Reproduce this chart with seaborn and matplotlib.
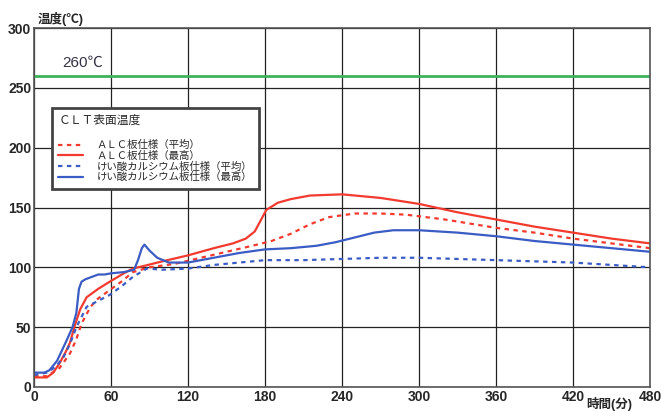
import pandas as pd
import matplotlib
matplotlib.use("Agg")
import matplotlib.pyplot as plt
import seaborn as sns

# ALC (average / max) and calcium silicate board (average / max), CLT surface temperature
alc_avg_t = [0, 10, 20, 28, 33, 37, 44, 50, 59, 68, 77, 90, 110, 130, 150, 170, 185, 200, 215, 230, 250, 270, 290, 320, 360, 390, 420, 450, 480]
alc_avg_v = [9, 9, 16, 28, 40, 53, 67, 74, 81, 88, 96, 100, 103, 108, 113, 118, 122, 128, 136, 142, 145, 145, 144, 140, 133, 129, 124, 120, 116]

alc_max_t = [0, 10, 15, 20, 25, 28, 32, 36, 41, 50, 59, 70, 77, 85, 100, 120, 140, 155, 165, 172, 176, 181, 190, 200, 215, 240, 270, 300, 330, 360, 390, 420, 450, 480]
alc_max_v = [8, 8, 12, 20, 30, 37, 52, 65, 75, 82, 88, 95, 99, 101, 105, 110, 116, 120, 124, 130, 138, 148, 154, 157, 160, 161, 158, 153, 146, 140, 134, 129, 124, 120]

casi_avg_t = [0, 10, 17, 23, 28, 33, 41, 50, 59, 68, 77, 88, 100, 120, 140, 160, 180, 210, 240, 270, 300, 330, 360, 390, 420, 450, 480]
casi_avg_v = [10, 12, 17, 25, 36, 50, 67, 72, 77, 84, 92, 99, 98, 99, 102, 104, 106, 106, 107, 108, 108, 107, 106, 105, 104, 102, 100]

casi_max_t = [0, 8, 12, 18, 25, 30, 33, 35, 37, 40, 45, 50, 55, 60, 70, 78, 81, 84, 86, 90, 96, 105, 120, 140, 160, 180, 200, 220, 235, 250, 265, 280, 300, 330, 360, 390, 420, 450, 480]
casi_max_v = [12, 12, 14, 22, 38, 50, 62, 82, 88, 90, 92, 94, 94, 95, 96, 98, 106, 116, 119, 114, 108, 104, 104, 108, 112, 115, 116, 118, 121, 125, 129, 131, 131, 129, 126, 122, 119, 116, 113]

labels = ["ＡＬＣ板仕様（平均）", "ＡＬＣ板仕様（最高）",
          "けい酸カルシウム板仕様（平均）", "けい酸カルシウム板仕様（最高）"]
x_ticks = [0, 60, 120, 180, 240, 300, 360, 420, 480]
y_ticks = [0, 50, 100, 150, 200, 250, 300]
limit_temp = 260

sns.set_theme(style="white")
plt.rcParams['font.family'] = ['Liberation Sans', 'Noto Sans CJK JP']

fig = plt.figure(figsize=(6.62, 4.12), dpi=100)
ax = fig.add_axes([0.0514, 0.0607, 0.9306, 0.8713])

series = [
    (alc_avg_t, alc_avg_v, labels[0], "#f23a2e", (0, (2, 2))),
    (alc_max_t, alc_max_v, labels[1], "#f23a2e", "-"),
    (casi_avg_t, casi_avg_v, labels[2], "#3b5cc4", (0, (2, 2))),
    (casi_max_t, casi_max_v, labels[3], "#3b5cc4", "-"),
]
for t, v, lab, col, ls in series:
    df = pd.DataFrame({"time": t, "temp": v})
    sns.lineplot(data=df, x="time", y="temp", ax=ax, color=col, linestyle=ls,
                 linewidth=1.6, label=lab)

ax.axhline(limit_temp, color="#3cb35a", linewidth=2)
ax.text(22, 271, "260℃", fontsize=11, color="#333344", va="center")

ax.set_xlim(0, 480)
ax.set_ylim(0, 300)
ax.set_xticks(x_ticks)
ax.set_yticks(y_ticks)
ax.grid(True, color="#222222", linewidth=0.9)
for s in ax.spines.values():
    s.set_color("#555555")
    s.set_linewidth(1.2)
ax.tick_params(length=0, pad=2)
for lbl in ax.get_xticklabels() + ax.get_yticklabels():
    lbl.set_fontweight("bold")
    lbl.set_fontsize(10)
ax.set_xlabel("")
ax.set_ylabel("")

fig.text(0.057, 0.955, "温度(℃)", fontsize=9, fontweight="bold", ha="left", va="center")
fig.text(0.921, 0.002, "時間(分)", fontsize=9, fontweight="bold", ha="center", va="bottom")

leg = ax.legend(loc="upper left", bbox_to_anchor=(0.029, 0.777), borderaxespad=0,
                title="ＣＬＴ表面温度", fontsize=7.5, title_fontsize=8.5, alignment="left",
                labelspacing=0.05, handlelength=2.4, handletextpad=1.3, borderpad=0.6,
                fancybox=False, framealpha=1)
leg.get_frame().set_edgecolor("#444444")
leg.get_frame().set_linewidth(2)
leg._legend_box.sep = 10

fig.savefig("out.png", dpi=100)
